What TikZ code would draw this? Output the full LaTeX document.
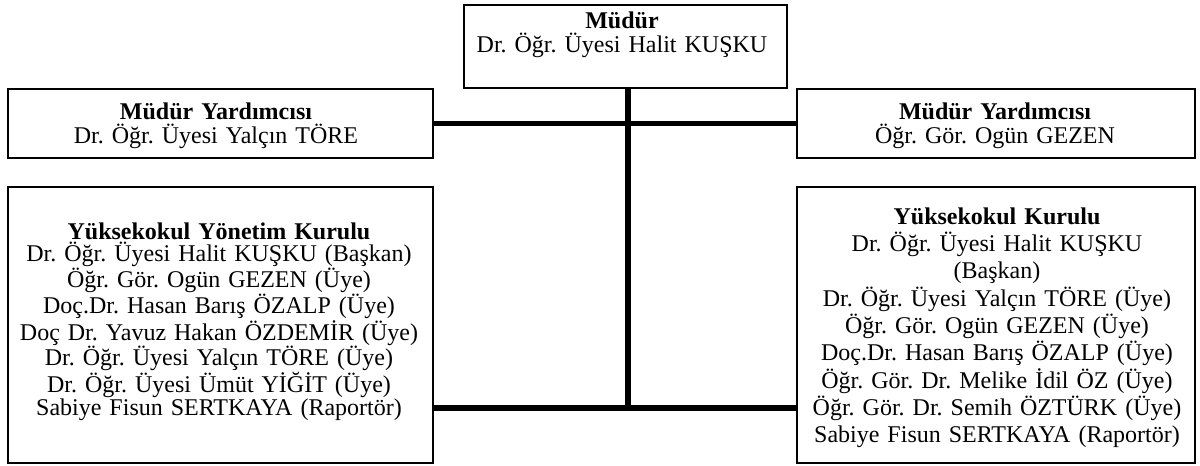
\documentclass[tikz,border=0pt]{standalone}
\usepackage{fontspec}
\setmainfont{Liberation Serif}
\frenchspacing
\begin{document}
\begin{tikzpicture}[x=0.75pt,y=-0.75pt,
  box/.style={draw=black, line width=1.1pt, rectangle, inner sep=0pt, fill=white},
  txtup/.style={inner sep=0pt, anchor=base, align=center, text width=330pt,
    font=\fontsize{18}{18.6}\selectfont\frenchspacing},
  txtlow/.style={inner sep=0pt, anchor=base, align=center, text width=330pt,
    font=\fontsize{18}{17.1}\selectfont\frenchspacing},
  txtwide/.style={inner sep=0pt, anchor=base, align=center, text width=330pt,
    font=\fontsize{18}{20.5}\selectfont\frenchspacing},
  conn/.style={line width=4.2pt, draw=black}]
\useasboundingbox (0,0) rectangle (1200,465);
\fill[white] (0,0) rectangle (1200,465);

\coordinate (tTop) at (628,88);
\coordinate (tBot) at (628,408);

% boxes
\node[box, minimum width=242.25pt, minimum height=62.25pt] (mudur) at (625.5,46.5) {};
\node[box, minimum width=318.75pt, minimum height=51.75pt] (mydL) at (220.5,123.5) {};
\node[box, minimum width=298.5pt, minimum height=51.75pt] (mydR) at (996,123.5) {};
\node[box, minimum width=318.75pt, minimum height=207pt] (ykL) at (220.5,325) {};
\node[box, minimum width=298.5pt, minimum height=207pt] (ykR) at (996,325) {};

% connectors
\draw[conn] (mydL.east) -- (mydR.west);
\draw[conn] (ykL.east |- tBot) -- (ykR.west |- tBot);
\draw[conn] (tTop) -- ([yshift=-2.1pt]tBot);

% texts
\node[txtup] (mudurT) at (622,28) {\textbf{Müdür}\\Dr. Öğr. Üyesi Halit KUŞKU};
\node[txtup] (mydLT) at (216,119) {\textbf{Müdür Yardımcısı}\\Dr. Öğr. Üyesi Yalçın TÖRE};
\node[txtup] (mydRT) at (995,119) {\textbf{Müdür Yardımcısı}\\Öğr. Gör. Ogün GEZEN};
\node[txtlow] (ykLT) at (219,239) {\textbf{Yüksekokul Yönetim Kurulu}\\
Dr. Öğr. Üyesi Halit KUŞKU (Başkan)\\
Öğr. Gör. Ogün GEZEN (Üye)\\
Doç.Dr. Hasan Barış ÖZALP (Üye)\\
Doç Dr. Yavuz Hakan ÖZDEMİR (Üye)\\
Dr. Öğr. Üyesi Yalçın TÖRE (Üye)\\
Dr. Öğr. Üyesi Ümüt YİĞİT (Üye)\\
Sabiye Fisun SERTKAYA (Raportör)};
\node[txtwide] (ykRT) at (997,224) {\textbf{Yüksekokul Kurulu}\\
Dr. Öğr. Üyesi Halit KUŞKU\\
(Başkan)\\
Dr. Öğr. Üyesi Yalçın TÖRE (Üye)\\
Öğr. Gör. Ogün GEZEN (Üye)\\
Doç.Dr. Hasan Barış ÖZALP (Üye)\\
Öğr. Gör. Dr. Melike İdil ÖZ (Üye)\\
Öğr. Gör. Dr. Semih ÖZTÜRK (Üye)\\
Sabiye Fisun SERTKAYA (Raportör)};
\end{tikzpicture}
\end{document}
